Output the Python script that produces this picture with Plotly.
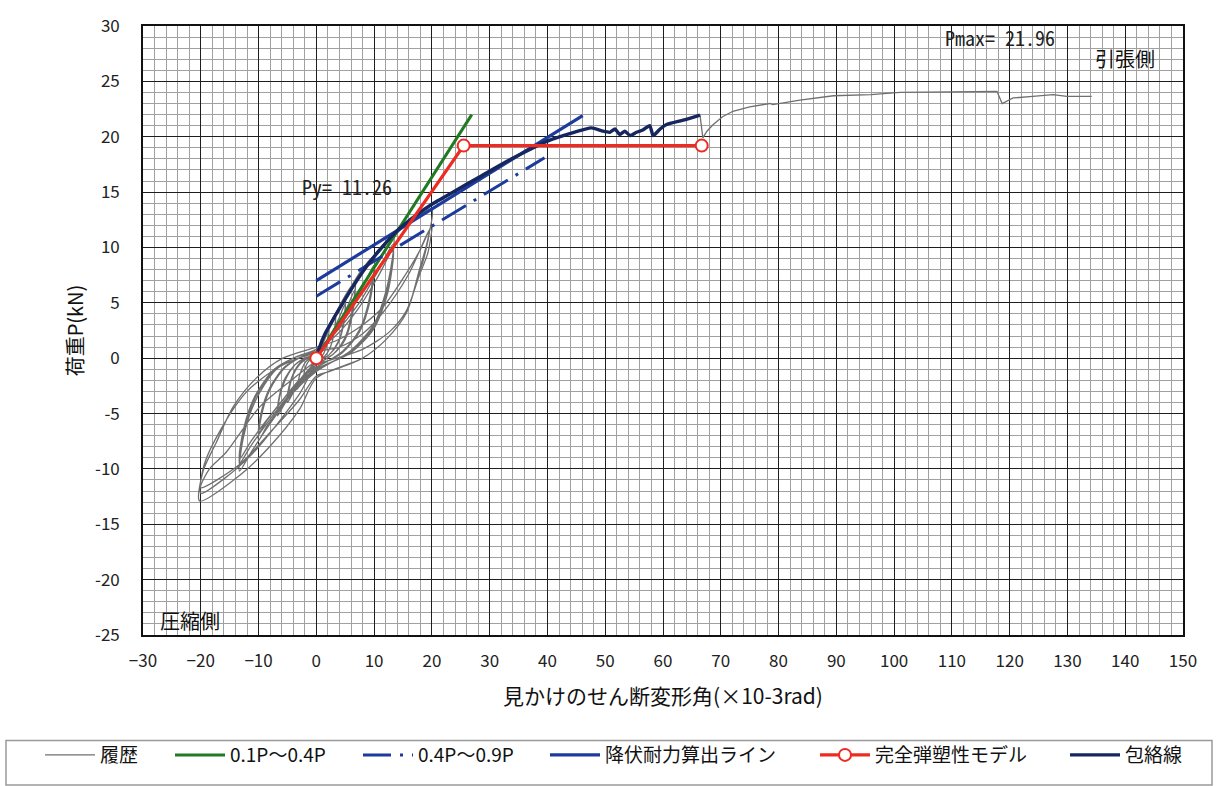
import plotly.graph_objects as go

# ---- cyclic loading history (x: apparent shear angle x10^-3 rad, y: load kN) ----
c1_x = [0, 0.6, 1.2, 1.8, 2.2, 2.0, 1.6, 1.0, 0, -0.7, -1.3, -1.9, -2.2, -2.1, -1.8, -1.2, -0.7, 0]
c1_y = [0, 1.0, 1.8, 2.5, 2.8, 1.7, 0.8, 0.2, -0.2, -0.6, -1.1, -1.6, -1.9, -1.3, -0.7, -0.2, 0.0, 0.2]

c2_x = [0.8, 1.7, 2.6, 3.3, 3.1, 2.5, 1.5, 0, -1.0, -2.0, -2.8, -3.3, -3.1, -2.6, -1.8, -1.0, 0]
c2_y = [0.9, 2.2, 3.3, 3.9, 2.4, 1.1, 0.2, -0.3, -0.8, -1.6, -2.3, -2.8, -2.0, -1.1, -0.3, 0.0, 0.2]

c3_x = [1.2, 2.7, 4.0, 5.0, 4.7, 3.8, 2.2, 0, -1.5, -3.0, -4.2, -5.0, -4.7, -4.0, -2.8, -1.5, 0]
c3_y = [1.4, 3.3, 4.6, 5.4, 3.3, 1.5, 0.3, -0.4, -1.2, -2.3, -3.3, -4.0, -2.8, -1.5, -0.5, 0.0, 0.3]

c4_x = [1.2, 2.7, 4.0, 5.0, 4.7, 3.8, 2.2, 0, -1.5, -3.0, -4.2, -5.0, -4.7, -4.0, -2.8, -1.5, 0]
c4_y = [1.0, 2.3, 3.7, 4.9, 3.0, 1.4, 0.3, -0.4, -1.1, -2.1, -3.0, -3.6, -2.5, -1.4, -0.4, 0.0, 0.3]

c5_x = [1.7, 3.7, 5.4, 6.7, 6.2, 5.0, 3.0, 0, -2.0, -4.0, -5.7, -6.7, -6.4, -5.4, -3.7, -2.0, 0]
c5_y = [2.2, 4.4, 6.0, 6.9, 4.3, 1.9, 0.4, -0.6, -1.6, -3.0, -4.3, -5.2, -3.6, -2.0, -0.6, 0.0, 0.4]

c6_x = [1.7, 3.7, 5.4, 6.7, 6.2, 5.0, 3.0, 0, -2.0, -4.0, -5.7, -6.7, -6.4, -5.4, -3.7, -2.0, 0]
c6_y = [1.3, 3.0, 4.7, 6.2, 3.8, 1.7, 0.4, -0.6, -1.4, -2.8, -4.0, -4.8, -3.4, -1.8, -0.6, 0.0, 0.4]

c7_x = [2.5, 5.5, 8.0, 10.0, 9.3, 7.5, 4.5, 0, -3.0, -6.0, -8.5, -10.0, -9.5, -8.0, -5.5, -3.0, 0]
c7_y = [3.2, 6.0, 8.1, 9.2, 5.7, 2.6, 0.6, -0.9, -2.2, -4.3, -6.1, -7.4, -5.2, -2.8, -0.9, 0.0, 0.6]

c8_x = [2.5, 5.5, 8.0, 10.0, 9.3, 7.5, 4.5, 0, -3.0, -6.0, -8.5, -10.0, -9.5, -8.0, -5.5, -3.0, 0]
c8_y = [1.9, 4.0, 6.4, 8.4, 5.2, 2.4, 0.5, -0.8, -2.0, -3.9, -5.6, -6.8, -4.8, -2.6, -0.8, 0.0, 0.6]

c9_x = [3.3, 7.3, 10.6, 13.3, 12.4, 10.0, 6.0, 0, -4.0, -8.0, -11.3, -13.3, -12.6, -10.6, -7.3, -4.0, 0]
c9_y = [3.9, 7.2, 9.7, 11.0, 6.8, 3.1, 0.7, -1.2, -3.1, -5.9, -8.5, -10.2, -7.1, -3.9, -1.2, 0.0, 0.8]

c10_x = [3.3, 7.3, 10.6, 13.3, 12.4, 10.0, 6.0, 0, -4.0, -8.0, -11.3, -13.3, -12.6, -10.6, -7.3, -4.0, 0]
c10_y = [2.3, 4.9, 7.8, 10.3, 6.4, 2.9, 0.6, -1.1, -2.9, -5.5, -7.9, -9.5, -6.7, -3.6, -1.1, 0.0, 0.8]

c11_x = [3.3, 7.3, 10.6, 13.3, 12.4, 10.0, 6.0, 0, -4.0, -8.0, -11.3, -13.3, -12.6, -10.6, -7.3, -4.0, 0]
c11_y = [2.0, 4.5, 7.3, 9.8, 6.0, 2.7, 0.5, -1.0, -2.7, -5.2, -7.5, -9.1, -6.4, -3.4, -1.0, 0.0, 0.8]

c12_x = [5.0, 11.0, 16.0, 20.0, 19.2, 17.9, 15.6, 12.1, 8.0, 0, -2.9, -8.1, -13.3, -20.2,
         -19.6, -17.3, -14.4, -10.4, -5.8, 0]
c12_y = [5.4, 9.7, 12.2, 13.5, 10.5, 8.1, 4.1, 1.7, 0.0, -1.8, -4.6, -8.0, -10.6, -12.9,
         -10.2, -7.6, -4.4, -1.8, 0.0, 1.0]

c13_x = [3.5, 8.0, 11.5, 15.0, 18.0, 20.0, 19.3, 17.9, 15.6, 12.7, 8.0, 2.3, 0, -3.0, -11.0,
         -16.0, -20.0, -19.4, -16.5, -12.0, -6.5, 0]
c13_y = [1.6, 3.0, 4.6, 7.2, 9.8, 12.0, 9.5, 7.6, 4.3, 2.4, 0.8, -0.2, -0.6, -3.3, -8.6,
         -10.9, -12.2, -9.6, -6.4, -3.0, -0.8, 0.6]

c14_x = [4.0, 8.0, 11.5, 16.0, 19.6, 18.5, 17.9, 15.6, 12.1, 8.0, 2.3, 0, -3.0, -8.0, -13.3,
         -20.0, -18.5, -15.6, -9.8, -4.6, 0]
c14_y = [1.0, 2.2, 4.1, 7.6, 11.6, 8.8, 7.9, 4.1, 1.7, 0.0, -1.2, -1.6, -3.8, -6.7, -9.6,
         -11.7, -10.0, -8.5, -4.4, -2.1, -0.2]

cycles_x = [c1_x, c2_x, c3_x, c4_x, c5_x, c6_x, c7_x, c8_x, c9_x, c10_x, c11_x, c12_x, c13_x, c14_x]
cycles_y = [c1_y, c2_y, c3_y, c4_y, c5_y, c6_y, c7_y, c8_y, c9_y, c10_y, c11_y, c12_y, c13_y, c14_y]

# envelope of the positive side up to Pmax
env_x = [0, 0.5, 1.5, 3.0, 4.5, 6.5, 9.0, 11.5, 14.0, 17.0, 20.0, 24.0, 28.0, 32.0, 36.0, 40.0,
         44.0, 47.6, 49.6, 50.8, 51.7, 52.5, 53.4, 54.3, 55.4, 56.5, 57.7, 58.3, 59.5, 60.6, 63.5, 66.4]
env_y = [0, 0.9, 2.2, 3.6, 4.9, 6.6, 8.5, 10.1, 11.5, 12.8, 13.9, 15.1, 16.3, 17.5, 18.6, 19.6,
         20.3, 20.8, 20.5, 20.4, 20.7, 20.2, 20.5, 20.1, 20.4, 20.6, 21.0, 20.1, 20.7, 21.1, 21.5, 21.96]

# monotonic push beyond Pmax
post_x = [66.4, 66.9, 67.6, 68.7, 70.3, 72.1, 75.0, 78.5, 79.0, 83.7, 89.5, 96.0, 101.0, 110.0,
          117.8, 118.7, 120.6, 124.0, 127.5, 129.9, 134.2]
post_y = [21.96, 19.9, 20.5, 21.1, 21.8, 22.3, 22.7, 23.0, 22.9, 23.3, 23.7, 23.8, 24.0, 24.05,
          24.1, 23.0, 23.5, 23.65, 23.8, 23.65, 23.65]

# evaluation lines
line1_x = [0, 26.9]          # 0.1Pmax - 0.4Pmax
line1_y = [0, 22.0]
line2_x = [0, 39.5]          # 0.4Pmax - 0.9Pmax
line2_y = [5.6, 18.1]
line3_x = [0, 46.1]          # yield strength line
line3_y = [7.0, 21.9]
model_x = [0, 25.5, 66.7]    # perfectly elasto-plastic model
model_y = [0, 19.2, 19.2]

x_ticks = list(range(-30, 151, 10))
x_labels = [str(v).replace("-", "\u2212") for v in x_ticks]
y_ticks = list(range(-25, 31, 5))
y_labels = [str(v) for v in y_ticks]

JP = "Noto Sans CJK JP, Noto Sans, sans-serif"
MONO = "Noto Sans Mono CJK JP, DejaVu Sans Mono, monospace"

GRAY = "#6f6f6f"
GREEN = "#1f7a22"
BLUE = "#1c3b9c"
NAVY = "#16265e"
RED = "#ee2b20"

hist_x, hist_y = [], []
for cx, cy in zip(cycles_x, cycles_y):
    hist_x += cx
    hist_y += cy

fig = go.Figure()

fig.add_trace(go.Scatter(x=hist_x, y=hist_y, mode="lines", name="履歴",
                         line=dict(color=GRAY, width=1.3, shape="spline", smoothing=0.8),
                         legend="legend", legendgroup="hist"))
fig.add_trace(go.Scatter(x=env_x + post_x, y=env_y + post_y, mode="lines", name="履歴",
                         line=dict(color=GRAY, width=1.3), showlegend=False, legendgroup="hist"))
fig.add_trace(go.Scatter(x=line1_x, y=line1_y, mode="lines", name="0.1P～0.4P",
                         line=dict(color=GREEN, width=3), legend="legend2"))
fig.add_trace(go.Scatter(x=line2_x, y=line2_y, mode="lines", name="0.4P～0.9P",
                         line=dict(color=BLUE, width=3, dash="28px,9px,3px,9px"), legend="legend3"))
fig.add_trace(go.Scatter(x=line3_x, y=line3_y, mode="lines", name="降伏耐力算出ライン",
                         line=dict(color=BLUE, width=3.2), legend="legend4"))
fig.add_trace(go.Scatter(x=env_x, y=env_y, mode="lines", name="包絡線",
                         line=dict(color=NAVY, width=3.4, shape="spline", smoothing=0.5),
                         legend="legend6"))
fig.add_trace(go.Scatter(x=model_x, y=model_y, mode="lines+markers", name="完全弾塑性モデル",
                         line=dict(color=RED, width=3.2),
                         marker=dict(symbol="circle", size=12, color="white",
                                     line=dict(color=RED, width=2)),
                         legend="legend5"))

# plot-area pixel geometry
L, R, T, B = 143, 1183, 16, 645
W, H = 1219, 786


def px_x(p):
    return (p - L) / (R - L)


def px_y(p):
    return (B - p) / (B - T)


leg_y = px_y(769)
leg_common = dict(orientation="h", yanchor="middle", xanchor="left", y=leg_y,
                  bgcolor="rgba(0,0,0,0)", borderwidth=0,
                  font=dict(family=JP, size=19, color="#111"), itemwidth=50)
text_starts = [100, 230, 418, 605, 875, 1125]
legends = {}
for i, ts in enumerate(text_starts):
    key = "legend" if i == 0 else f"legend{i + 1}"
    legends[key] = dict(leg_common, x=px_x(ts - 60))

fig.update_layout(
    width=W, height=H,
    margin=dict(l=L, r=W - R, t=T, b=H - B),
    paper_bgcolor="white", plot_bgcolor="white",
    font=dict(family=JP, color="#222"),
    **legends,
    xaxis=dict(range=[-30, 150], tickmode="array", tickvals=x_ticks, ticktext=x_labels,
               showgrid=True, gridcolor="#1e1e1e", gridwidth=1.4, zeroline=False,
               minor=dict(tickmode="linear", tick0=0, dtick=2, showgrid=True,
                          gridcolor="#a0a0a0", gridwidth=1),
               showline=True, mirror=True, linecolor="#111", linewidth=1.6,
               ticks="", ticklabelstandoff=10,
               tickfont=dict(family=JP, size=17, color="#222"),
               title=dict(text="見かけのせん断変形角(×10-3rad)", standoff=18,
                          font=dict(family=JP, size=21, color="#111"))),
    yaxis=dict(range=[-25, 30], tickmode="array", tickvals=y_ticks, ticktext=y_labels,
               showgrid=True, gridcolor="#1e1e1e", gridwidth=1.4, zeroline=False,
               minor=dict(tickmode="linear", tick0=0, dtick=1, showgrid=True,
                          gridcolor="#a0a0a0", gridwidth=1),
               showline=True, mirror=True, linecolor="#111", linewidth=1.6,
               ticks="", ticklabelstandoff=18,
               tickfont=dict(family=JP, size=17, color="#222"),
               title=dict(text="荷重P(kN)", standoff=6,
                          font=dict(family=JP, size=20, color="#111"))),
    shapes=[dict(type="rect", xref="paper", yref="paper",
                 x0=px_x(6), x1=px_x(1212), y0=px_y(754), y1=px_y(800),
                 line=dict(color="#9a9a9a", width=1.5), fillcolor="rgba(0,0,0,0)")],
    annotations=[
        dict(x=-2.9, y=15.5, xref="x", yref="y", text="Py= 11.26", showarrow=False,
             xanchor="left", yanchor="middle", font=dict(family=MONO, size=20, color="#222")),
        dict(x=108.5, y=29.0, xref="x", yref="y", text="Pmax= 21.96", showarrow=False,
             xanchor="left", yanchor="middle", font=dict(family=MONO, size=20, color="#222")),
        dict(x=134.5, y=27.1, xref="x", yref="y", text="引張側", showarrow=False,
             xanchor="left", yanchor="middle", font=dict(family=JP, size=20, color="#111")),
        dict(x=-27.4, y=-23.7, xref="x", yref="y", text="圧縮側", showarrow=False,
             xanchor="left", yanchor="middle", font=dict(family=JP, size=20, color="#111")),
    ],
)

fig.write_html("out.html")
